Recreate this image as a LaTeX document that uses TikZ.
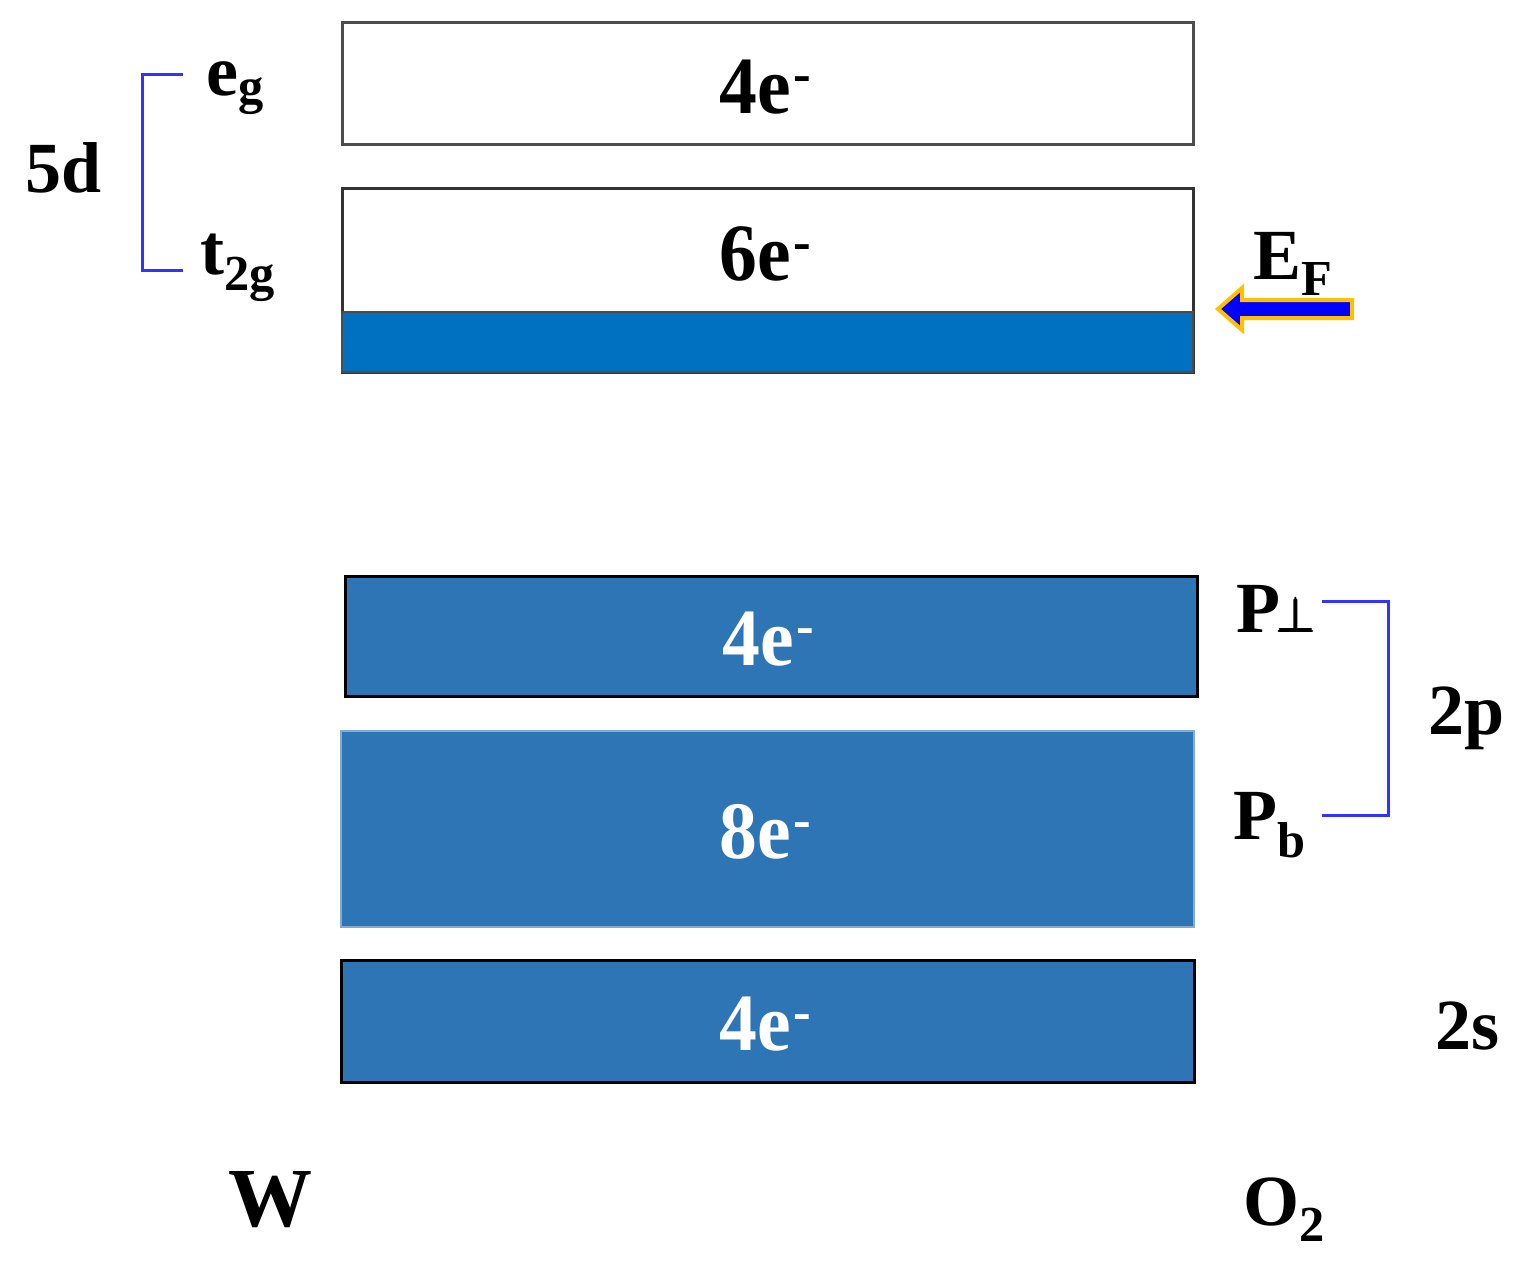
\documentclass[tikz,border=0pt]{standalone}
\usepackage{fontspec}
\usepackage{amsmath}
\setmainfont{Liberation Serif}
\begin{document}
\begin{tikzpicture}[x=0.5pt,y=-0.5pt,
  band/.style={draw=black,line width=1.5pt,inner sep=0pt,outer sep=0pt},
  boxtxt/.style={font=\fontsize{36}{36}\selectfont\bfseries,inner sep=0pt},
  lbl/.style={font=\fontsize{36}{36}\selectfont\bfseries,inner sep=0pt},
  brk/.style={draw=blue!80!white,line width=1.5pt}]
\useasboundingbox (0,0) rectangle (1527,1268);
\definecolor{fillblue}{HTML}{2E75B6}
\definecolor{efblue}{HTML}{0070C0}
\definecolor{arrowor}{HTML}{FFC000}
\newcommand{\bx}[1]{\scalebox{1.05}[1.13]{#1e\kern1pt\textsuperscript{-}}}
% bands
\node[band,draw=black!70,fill=white,minimum width=425.5pt,minimum height=61pt,anchor=north west] (eg) at (342,23) {};
\node[boxtxt] (egtxt) at (766,87) {\bx{4}};
\node[band,draw=black!80,fill=white,minimum width=425.5pt,minimum height=91.5pt,anchor=north west] (t2g) at (342,189) {};
\node[inner sep=0pt,outer sep=0pt,fill=efblue,draw=black!70,line width=1pt,minimum width=425.5pt,minimum height=30pt,anchor=north west] (fill) at (342,312) {};
\node[boxtxt] (t2gtxt) at (766,254) {\bx{6}};
\node[band,fill=fillblue,minimum width=426pt,minimum height=60pt,anchor=north west] (pperp) at (345,576) {};
\node[boxtxt,white] (pptxt) at (769,639) {\bx{4}};
\node[band,draw=fillblue!60!white,line width=1pt,fill=fillblue,minimum width=426.5pt,minimum height=98pt,anchor=north west] (pb) at (341,731) {};
\node[boxtxt,white] (pbtxt) at (766,832) {\bx{8}};
\node[band,fill=fillblue,minimum width=426.5pt,minimum height=61pt,anchor=north west] (s2) at (341,960) {};
\node[boxtxt,white] (s2txt) at (766,1024) {\bx{4}};
% left labels
\node[lbl] (fived) at (64,168) {5d};
\node[lbl,anchor=west] (eglbl) at (206,88) {e\textsubscript{g}};
\node[lbl,anchor=west] (t2glbl) at (200,268) {t\textsubscript{2g}};
\coordinate (la) at (183,75);
\coordinate (lb) at (183,270);
\draw[brk] (la) -- (142,75) -- (142,270) -- (lb);
% right labels
\node[lbl,anchor=base west] (pplbl) at (1236,632) {P\kern-1.5pt{\fontsize{30}{30}\selectfont$\pmb{\perp}$}};
\node[lbl,anchor=west] (pblbl) at (1233,825) {P\textsubscript{b}};
\node[lbl] (twop) at (1467,718) {2p};
\node[lbl] (twos) at (1467,1026) {2s};
\coordinate (ra) at (1322,601);
\coordinate (rb) at (1322,815);
\draw[brk] (ra) -- (1388,601) -- (1388,815) -- (rb);
% E_F
\node[lbl,anchor=west] (ef) at (1253,264) {E\textsubscript{F}};
\draw[draw=arrowor,line width=2pt,fill=blue,line join=miter]
  (1352,300) -- (1242,300) -- (1242,288) -- (1218,309) -- (1242,330) -- (1242,318) -- (1352,318) -- cycle;
% bottom labels
\node[lbl,font=\fontsize{42}{42}\selectfont\bfseries] (w) at (270,1200) {W};
\node[lbl,anchor=west] (o2) at (1243,1210) {O\textsubscript{2}};
\end{tikzpicture}
\end{document}
